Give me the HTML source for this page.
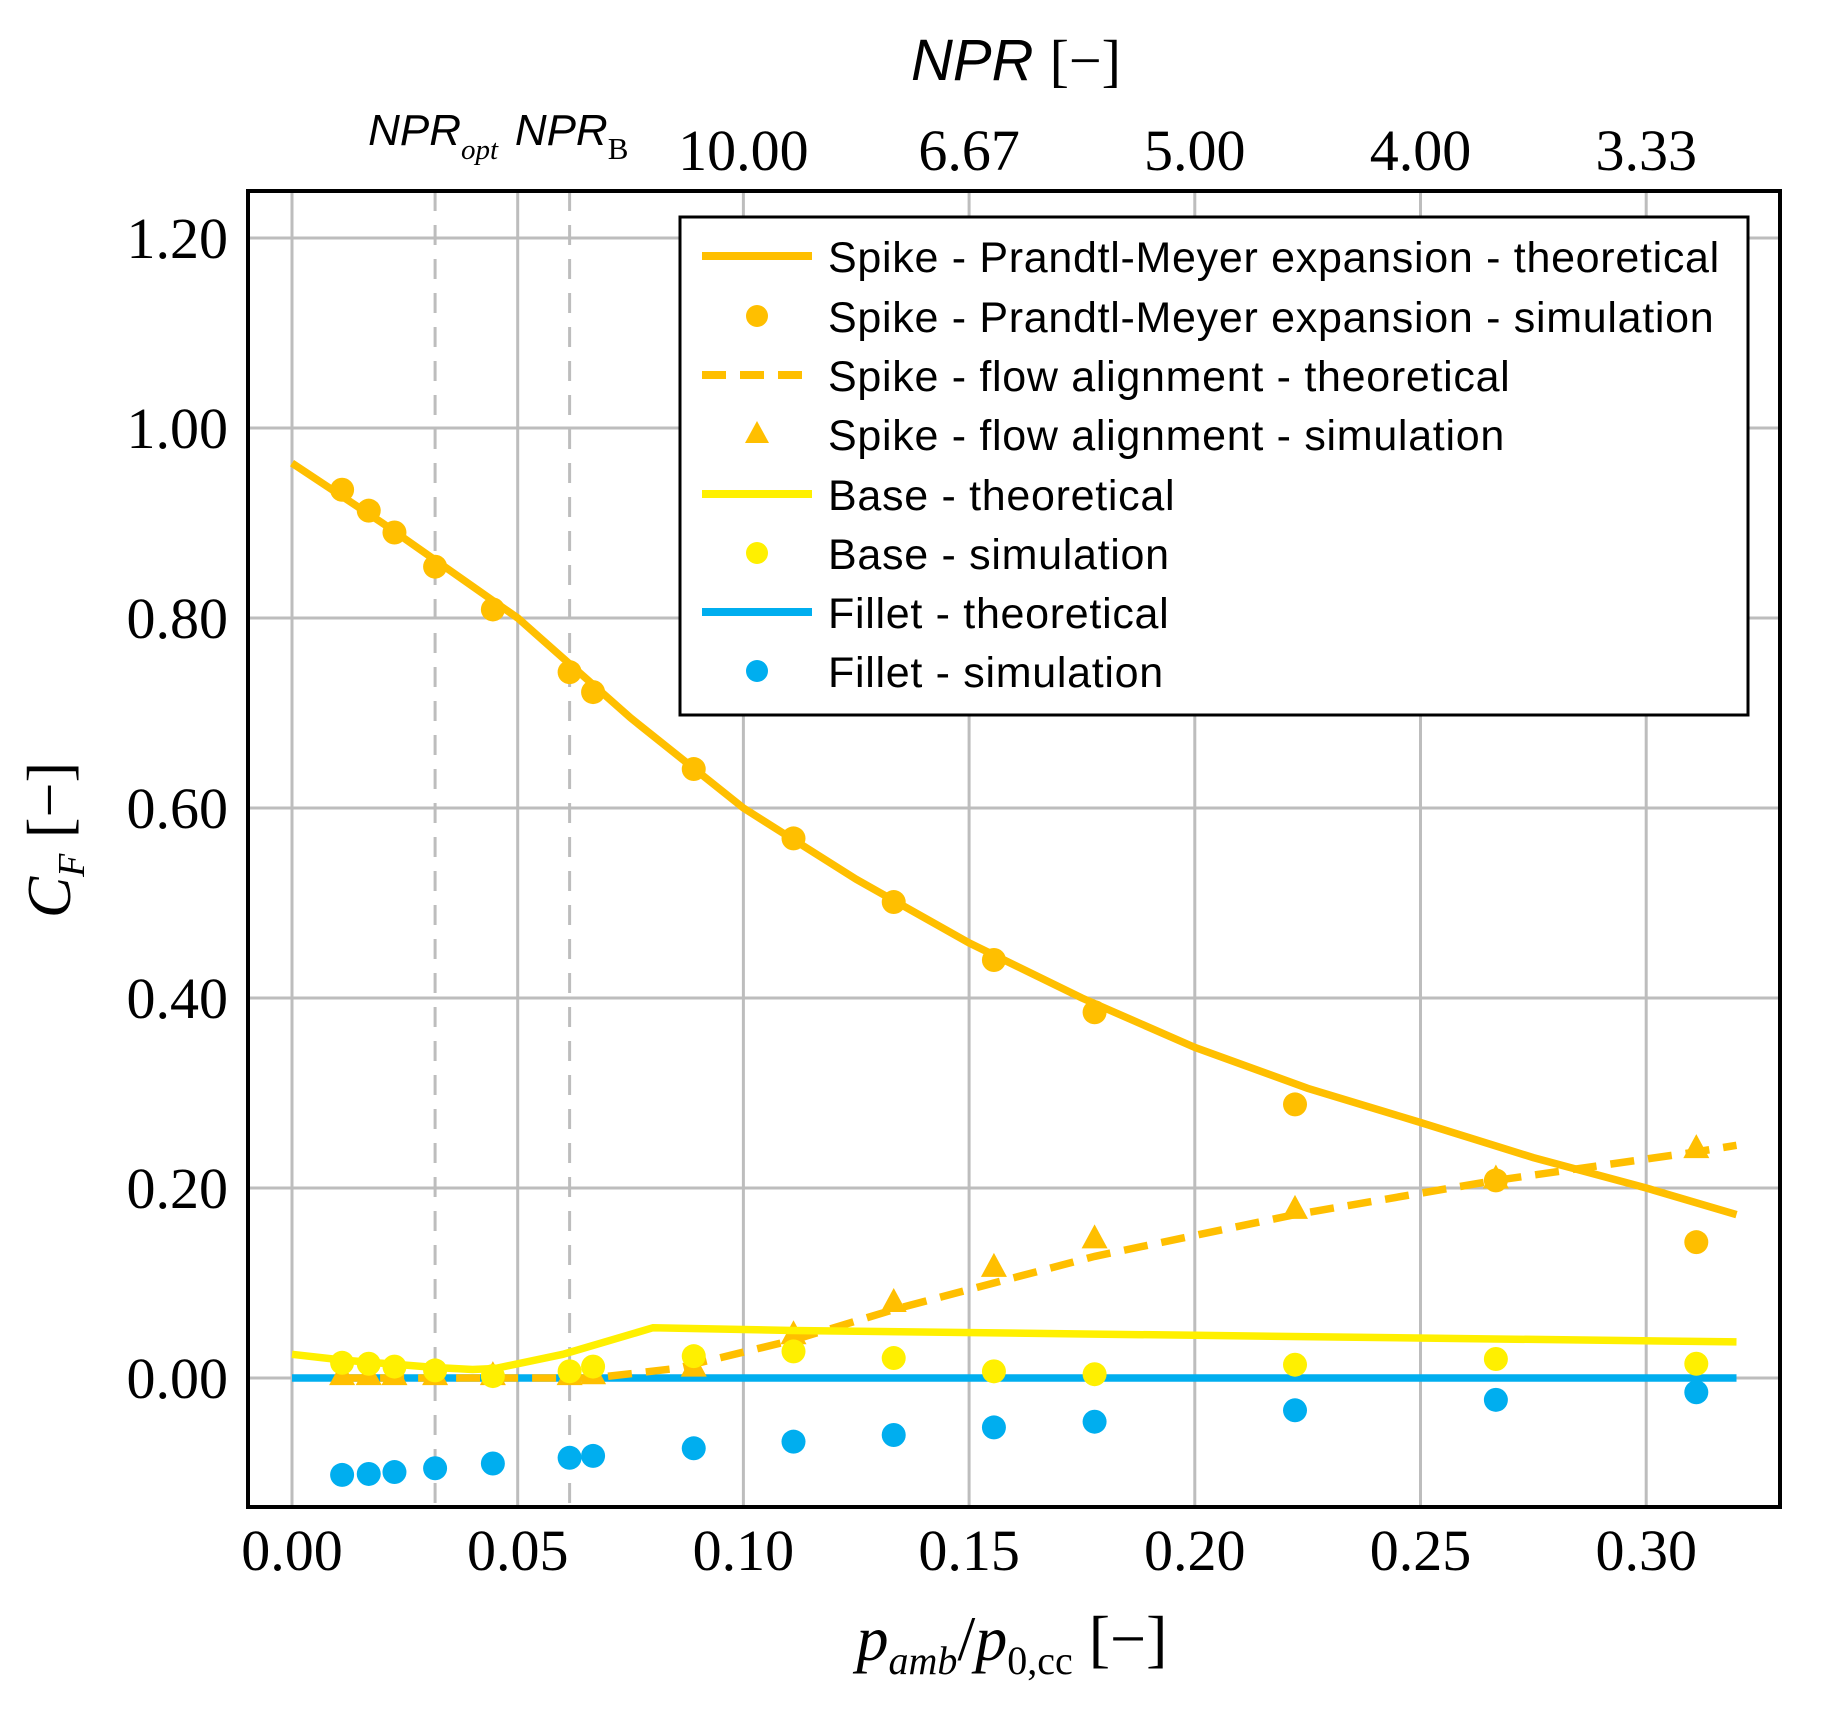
<!DOCTYPE html>
<html><head><meta charset="utf-8"><style>
html,body{margin:0;padding:0;background:#fff;}
svg{display:block;}
</style></head><body>
<svg id="chart" width="1822" height="1711" viewBox="0 0 1822 1711" xmlns="http://www.w3.org/2000/svg">
<rect x="0" y="0" width="1822" height="1711" fill="#fff"/>
<g id="grid"></g>
<g id="marks"></g>
<rect x="248" y="191" width="1532" height="1316" fill="none" stroke="#000" stroke-width="4"/>
<g id="labels"></g>
<text x="1016" y="80" font-family="Liberation Sans, sans-serif" font-style="italic" font-size="58" text-anchor="middle">NPR <tspan font-family="Liberation Serif, serif" font-style="normal">[−]</tspan></text>
<text x="1012" y="1660" font-family="Liberation Serif, serif" font-size="64" text-anchor="middle"><tspan font-style="italic">p</tspan><tspan font-style="italic" font-size="40" dy="14">amb</tspan><tspan dy="-14">/</tspan><tspan font-style="italic">p</tspan><tspan font-size="40" dy="14">0,cc</tspan><tspan dy="-14"> [−]</tspan></text>
<text transform="translate(70,840) rotate(-90)" font-family="Liberation Serif, serif" font-size="62" text-anchor="middle"><tspan font-style="italic">C</tspan><tspan font-style="italic" font-size="38" dy="14">F</tspan><tspan dy="-14">  [−]</tspan></text>
<g id="legend"></g>
</svg>
<script>
const xTicks = [0, 0.05, 0.10, 0.15, 0.20, 0.25, 0.30];
const xTickLabels = ["0.00","0.05","0.10","0.15","0.20","0.25","0.30"];
const yTicks = [0, 0.2, 0.4, 0.6, 0.8, 1.0, 1.2];
const yTickLabels = ["0.00","0.20","0.40","0.60","0.80","1.00","1.20"];
const topTicks = [0.1, 0.15, 0.2, 0.25, 0.3];
const topTickLabels = ["10.00","6.67","5.00","4.00","3.33"];
const refLines = [0.0317, 0.0615];
const simX = [0.0111,0.0170,0.0227,0.0317,0.0445,0.0615,0.0667,0.0890,0.1111,0.1333,0.1555,0.1778,0.2222,0.2667,0.3111];
const pmSim = [0.935,0.913,0.890,0.854,0.809,0.743,0.722,0.641,0.568,0.501,0.440,0.385,0.288,0.208,0.143];
const pmThX = [0,0.02,0.05,0.075,0.10,0.125,0.15,0.175,0.20,0.225,0.25,0.275,0.30,0.32];
const pmTh = [0.963,0.900,0.800,0.695,0.600,0.525,0.458,0.400,0.348,0.305,0.269,0.232,0.200,0.172];
const faThX = [0.0111,0.0667,0.085,0.1111,0.1333,0.1555,0.1778,0.2222,0.2667,0.3111,0.32];
const faTh = [0,0,0.010,0.040,0.072,0.100,0.128,0.172,0.208,0.238,0.245];
const faSim = [0.003,0.003,0.003,0.003,0.003,0.003,0.004,0.012,0.046,0.080,0.117,0.147,0.178,0.210,0.242];
const baseThX = [0,0.0111,0.0317,0.04,0.045,0.06,0.08,0.111,0.20,0.32];
const baseTh = [0.025,0.019,0.011,0.009,0.010,0.025,0.053,0.050,0.045,0.038];
const baseSim = [0.016,0.015,0.012,0.008,0.002,0.007,0.012,0.023,0.028,0.021,0.007,0.004,0.014,0.020,0.015];
const filThX = [0,0.32];
const filTh = [0,0];
const filSim = [-0.102,-0.101,-0.099,-0.095,-0.090,-0.084,-0.082,-0.074,-0.067,-0.060,-0.052,-0.046,-0.034,-0.023,-0.015];

const X0=292, XS=225.7/0.05, Y0=1378, YS=190/0.2;
function sx(v){return X0+v*XS;}
function sy(v){return Y0-v*YS;}
const NS='http://www.w3.org/2000/svg';
function mk(tag,attrs,parent){const e=document.createElementNS(NS,tag);for(const k in attrs)e.setAttribute(k,attrs[k]);parent.appendChild(e);return e;}
const ORANGE='#ffbf00', YELLOW='#fff000', BLUE='#00aeef';
const grid=document.getElementById('grid'), marks=document.getElementById('marks'), labels=document.getElementById('labels'), legend=document.getElementById('legend');

xTicks.forEach((t,i)=>{
  const l=mk('line',{x1:sx(t),x2:sx(t),y1:191,y2:1507,stroke:'#bdbdbd','stroke-width':3},grid);
  
  
  const tx=mk('text',{x:sx(t),y:1570,'font-family':'Liberation Serif, serif','font-size':58,'text-anchor':'middle'},labels);
  tx.textContent=xTickLabels[i];
  
  
});
yTicks.forEach((t,i)=>{
  const l=mk('line',{x1:248,x2:1780,y1:sy(t),y2:sy(t),stroke:'#bdbdbd','stroke-width':3},grid);
  
  
  const tx=mk('text',{x:228,y:sy(t)+20,'font-family':'Liberation Serif, serif','font-size':58,'text-anchor':'end'},labels);
  tx.textContent=yTickLabels[i];
  
  
});
refLines.forEach(t=>{
  const l=mk('line',{x1:sx(t),x2:sx(t),y1:191,y2:1507,stroke:'#bdbdbd','stroke-width':3,'stroke-dasharray':'20,14'},grid);
  
  
});
topTicks.forEach((t,i)=>{
  const tx=mk('text',{x:sx(t),y:170,'font-family':'Liberation Serif, serif','font-size':58,'text-anchor':'middle'},labels);
  tx.textContent=topTickLabels[i];
  
  
});
{
  const a=mk('text',{x:sx(refLines[0])-2,y:145,'font-family':'Liberation Sans, sans-serif','font-style':'italic','font-size':44,'text-anchor':'middle'},labels);
  a.innerHTML='NPR<tspan font-family="Liberation Serif, serif" font-size="29" dy="14">opt</tspan>';
  
  
  const b=mk('text',{x:sx(refLines[1])+2,y:145,'font-family':'Liberation Sans, sans-serif','font-style':'italic','font-size':44,'text-anchor':'middle'},labels);
  b.innerHTML='NPR<tspan font-family="Liberation Serif, serif" font-style="normal" font-size="31" dy="14">B</tspan>';
  
  
}
function line(xs,ys,color,dash,name){
  const d=xs.map((x,i)=>(i?'L':'M')+sx(x).toFixed(1)+','+sy(ys[i]).toFixed(1)).join(' ');
  const p=mk('path',{d:d,fill:'none',stroke:color,'stroke-width':7.5,'stroke-dasharray':dash||'none'},marks);
  
  
}
function dots(xs,ys,color,name){
  xs.forEach((x,i)=>{
    const c=mk('circle',{cx:sx(x),cy:sy(ys[i]),r:12,fill:color},marks);
    
    
  });
}
function tris(xs,ys,color,name){
  xs.forEach((x,i)=>{
    const cx=sx(x), cy=sy(ys[i]);
    const p=mk('polygon',{points:`${cx},${cy-14} ${cx-13},${cy+10} ${cx+13},${cy+10}`,fill:color},marks);
    
    
  });
}
line(filThX,filTh,BLUE,null,'fillet-theoretical-line');
tris(simX,faSim,ORANGE,'flow-alignment-sim-point');
line(faThX,faTh,ORANGE,'24,14','flow-alignment-theoretical-line');
line(baseThX,baseTh,YELLOW,null,'base-theoretical-line');
dots(simX,baseSim,YELLOW,'base-sim-point');
dots(simX,filSim,BLUE,'fillet-sim-point');
line(pmThX,pmTh,ORANGE,null,'prandtl-meyer-theoretical-line');
dots(simX,pmSim,ORANGE,'prandtl-meyer-sim-point');

// legend
const lb=mk('rect',{x:680,y:217,width:1068,height:498,fill:'#fff',stroke:'#000','stroke-width':3},legend);


const entries=[
 ['line',ORANGE,'Spike - Prandtl-Meyer expansion - theoretical',null],
 ['dot',ORANGE,'Spike - Prandtl-Meyer expansion - simulation'],
 ['line',ORANGE,'Spike - flow alignment - theoretical','24,14'],
 ['tri',ORANGE,'Spike - flow alignment - simulation'],
 ['line',YELLOW,'Base - theoretical',null],
 ['dot',YELLOW,'Base - simulation'],
 ['line',BLUE,'Fillet - theoretical',null],
 ['dot',BLUE,'Fillet - simulation']
];
const rowY=[256,316,375,434,494,553,612,671];
entries.forEach((e,i)=>{
  const y=rowY[i];
  if(e[0]==='line'){const l=mk('line',{x1:702,x2:812,y1:y,y2:y,stroke:e[1],'stroke-width':8,'stroke-dasharray':e[3]||'none'},legend);
    
    }
  else if(e[0]==='dot'){const c=mk('circle',{cx:757,cy:y,r:11,fill:e[1]},legend);
    
    }
  else {const p=mk('polygon',{points:`757,${y-13} 745,${y+9} 769,${y+9}`,fill:e[1]},legend);
    
    }
  const t=mk('text',{x:828,y:y+16,'font-family':'Liberation Sans, sans-serif','font-size':43,'letter-spacing':'0.7'},legend);
  t.textContent=e[2];
  
  
});
</script>
</body></html>
